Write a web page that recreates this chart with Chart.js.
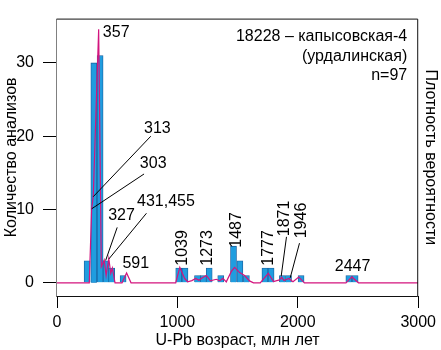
<!DOCTYPE html>
<html>
<head>
<meta charset="utf-8">
<script src="https://cdn.jsdelivr.net/npm/chart.js@4.4.1/dist/chart.umd.min.js"></script>
<style>
  body { margin: 0; background: #fff; }
</style>
</head>
<body>
<canvas id="myChart" width="441" height="350"></canvas>
<script>
// --------------------------------------------------------------------------------
// histogram: centre of each 50 Ma bin and number of analyses

let binAges   = [250, 306, 358, 408, 454, 549, 1011, 1063, 1167, 1215, 1264, 1360, 1466, 1519, 1573, 1727, 1778, 1872, 1923, 2027, 2424, 2476];
let binCounts = [3, 30, 31, 3, 2, 1, 2, 2, 1, 1, 2, 1, 5, 3, 1, 2, 2, 1, 1, 1, 1, 1];

// probability density curve (drawn in the same units as the bars)
let pdfAges   = [0, 268, 288, 301, 346, 368, 392, 408, 430, 447, 460, 482, 540, 578, 615, 986, 1020, 1060, 1085, 1120,
                 1152, 1179, 1207, 1241, 1274, 1323, 1351, 1378, 1406, 1448, 1475, 1517, 1558, 1599, 1632, 1688, 1755, 1798,
                 1848, 1866, 1885, 1925, 1960, 2008, 2055, 2400, 2449, 2504, 3000];
let pdfValues = [0, 0, 10.1, 11.75, 34.6, 2.2, 3.1, 1.0, 3.3, 1.3, 2.0, 0, 0, 1.35, 0, 0, 2.1, 0.6, 0.15, 0.3,
                 0.6, 0.35, 0.68, 1.0, 0.26, 0.48, 0.26, 0.6, 0.13, 1.55, 2.1, 1.4, 1.0, 0.26, 0, 0, 1.3, 0.17,
                 0.4, 0.75, 0.3, 0.6, 0.15, 0.8, 0, 0, 0.8, 0, 0];

let xTicks = [0, 1000, 2000, 3000];
let yTicks = [0, 10, 20, 30];

let peakLabels = ["357", "313", "303", "327", "431,455", "591", "1039", "1273", "1487", "1777", "1871", "1946", "2447"];
let infoLines  = ["18228 – капысовская-4", "(урдалинская)", "n=97"];

const FONT = '"Liberation Sans", Arial, sans-serif';

// --------------------------------------------------------------------------------
// frame, peak labels with leader lines, sample caption

const frameAndLabels = {
  id: "frameAndLabels",
  afterDraw(chart, args, opts) {
    const {ctx, chartArea: a, scales: {x, y}} = chart;
    ctx.save();
    ctx.lineWidth = 1;

    // box round the plot
    ctx.strokeStyle = "#808080";
    ctx.beginPath();
    ctx.moveTo(a.left - 0.5, a.top + 0.5);
    ctx.lineTo(a.left - 0.5, a.bottom + 0.5);
    ctx.stroke();
    ctx.strokeStyle = "#111";
    ctx.beginPath();
    ctx.moveTo(a.left - 0.5, a.top + 0.5);
    ctx.lineTo(a.right - 0.5, a.top + 0.5);
    ctx.lineTo(a.right - 0.5, a.bottom + 0.5);
    ctx.lineTo(a.left - 0.5, a.bottom + 0.5);
    ctx.stroke();

    ctx.fillStyle = "#000";
    ctx.strokeStyle = "#000";
    ctx.font = "16px " + FONT;
    ctx.textBaseline = "middle";

    opts.labels.forEach((l, i) => {
      if (l.line) {
        ctx.beginPath();
        ctx.moveTo(x.getPixelForValue(l.line[0]), y.getPixelForValue(l.line[1]));
        ctx.lineTo(x.getPixelForValue(l.line[2]), y.getPixelForValue(l.line[3]));
        ctx.stroke();
      }
      const px = x.getPixelForValue(l.x), py = y.getPixelForValue(l.y);
      ctx.save();
      ctx.translate(px, py);
      if (l.vertical) ctx.rotate(-Math.PI / 2);
      ctx.textAlign = l.align || "center";
      ctx.fillText(peakLabels[i], 0, 0);
      ctx.restore();
    });

    ctx.textAlign = "right";
    infoLines.forEach((t, i) => {
      ctx.fillText(t, a.right - 11, a.top + 18 + i * 19.5);
    });
    ctx.restore();
  }
};

new Chart("myChart", {
  type: "bar",
  data: {
    datasets: [{
      type: "line",
      data: pdfAges.map((a, i) => ({x: a, y: pdfValues[i]})),
      borderColor: "#d3147e",
      borderWidth: 1.2,
      pointRadius: 0,
      tension: 0,
      fill: false,
      yAxisID: "y2",
      order: 0
    }, {
      type: "bar",
      data: binAges.map((a, i) => ({x: a, y: binCounts[i]})),
      backgroundColor: "#209ddf",
      borderColor: "#1a5e9c",
      borderWidth: 0.8,
      barThickness: 6,
      yAxisID: "y",
      order: 1
    }]
  },
  options: {
    responsive: false,
    animation: false,
    layout: {padding: {top: 2}},
    plugins: {
      legend: {display: false},
      tooltip: {enabled: false},
      frameAndLabels: {
        labels: [
          {x: 381, y: 34.1, align: "left"},
          {x: 723, y: 21.1, align: "left", line: [779, 20.0, 301, 11.75]},
          {x: 688, y: 16.2, align: "left", line: [723, 14.85, 288, 10.1]},
          {x: 425, y: 9.14, align: "left", line: [500, 7.56, 404, 3.05]},
          {x: 665, y: 11.07, align: "left", line: [743, 9.49, 431, 3.26]},
          {x: 543, y: 2.61, align: "left"},
          {x: 1042, y: 4.76, vertical: true},
          {x: 1254, y: 4.76, vertical: true},
          {x: 1492, y: 7.21, vertical: true},
          {x: 1755, y: 4.76, vertical: true},
          {x: 1894, y: 8.79, vertical: true, line: [1906, 6.27, 1862, 0.9]},
          {x: 2028, y: 8.5, vertical: true, line: [2014, 5.41, 1937, 0.68]},
          {x: 2455, y: 2.25}
        ]
      }
    },
    scales: {
      x: {
        type: "linear",
        min: 0,
        max: 3000,
        offset: false,
        afterBuildTicks: s => { s.ticks = xTicks.map(v => ({value: v})); },
        afterFit: s => { s.height = 54; },
        grid: {drawOnChartArea: false, drawTicks: true, tickLength: 12, color: "#000", offset: false},
        border: {display: false},
        ticks: {color: "#000", font: {size: 16, family: FONT}, padding: 5, maxRotation: 0, callback: v => String(v)},
        title: {display: true, text: "U-Pb возраст, млн лет", color: "#000", font: {size: 16, family: FONT}, padding: {top: 0, bottom: 0}}
      },
      y: {
        position: "left",
        min: -1.8,
        max: 36.05,
        afterBuildTicks: s => { s.ticks = yTicks.map(v => ({value: v})); },
        afterFit: s => { s.width = 57; },
        grid: {drawOnChartArea: false, drawTicks: true, tickLength: 14, color: "#000"},
        border: {display: false},
        ticks: {color: "#000", font: {size: 16, family: FONT}, padding: 9, callback: v => String(v)},
        title: {display: true, text: "Количество анализов", color: "#000", font: {size: 16, family: FONT}, padding: {top: 2, bottom: 0}}
      },
      y2: {
        position: "right",
        min: -1.8,
        max: 36.05,
        afterFit: s => { s.width = 22; },
        grid: {display: false},
        border: {display: false},
        ticks: {display: false},
        title: {display: true, text: "Плотность вероятности", color: "#000", font: {size: 16, family: FONT}, padding: {top: 0, bottom: 0}}
      }
    }
  },
  plugins: [frameAndLabels]
});
</script>
</body>
</html>
